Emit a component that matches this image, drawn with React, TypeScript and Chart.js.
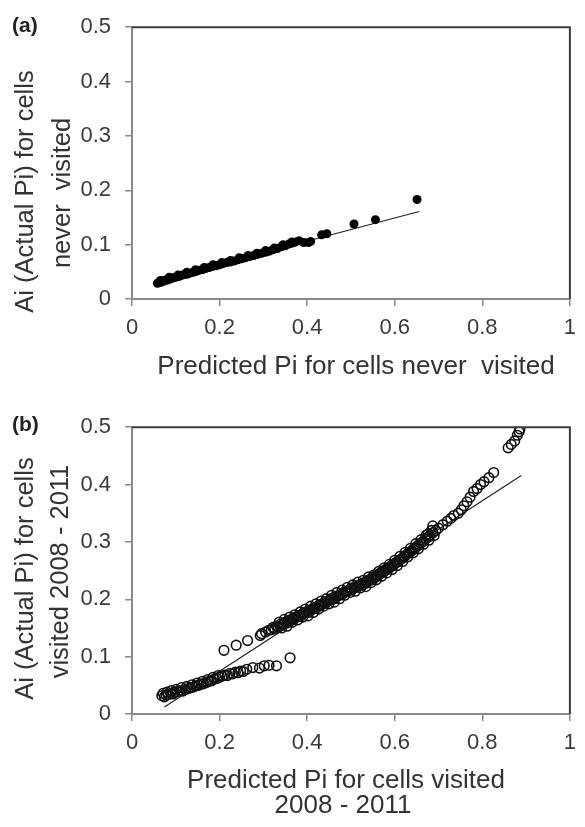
import React, { useEffect, useRef } from 'react';
import { Chart, registerables } from 'chart.js';
Chart.register(...registerables);

const xTicks = [0, 0.2, 0.4, 0.6, 0.8, 1];
const yTicks = [0, 0.1, 0.2, 0.3, 0.4, 0.5];

// Panel (a): cells never visited
const neverPredicted = [
  0.058, 0.061, 0.064, 0.067, 0.070, 0.073, 0.077, 0.081, 0.085, 0.089,
  0.094, 0.099, 0.104, 0.109, 0.115, 0.121, 0.127, 0.133, 0.140, 0.147,
  0.154, 0.161, 0.168, 0.176, 0.184, 0.192, 0.200, 0.208, 0.216, 0.224,
  0.233, 0.242, 0.251, 0.260, 0.269, 0.278, 0.287, 0.296, 0.305, 0.314,
  0.323, 0.332, 0.341, 0.350, 0.358, 0.366, 0.374, 0.382, 0.392, 0.403,
  0.408, 0.433, 0.445, 0.507, 0.556, 0.651,
  0.065, 0.085, 0.105, 0.125, 0.145, 0.165, 0.185, 0.205, 0.225, 0.245,
  0.265, 0.285, 0.305, 0.325, 0.345, 0.365,
];
const neverActual = [
  0.029, 0.030, 0.031, 0.031, 0.033, 0.033, 0.035, 0.035, 0.037, 0.037,
  0.039, 0.040, 0.041, 0.042, 0.044, 0.045, 0.046, 0.048, 0.049, 0.051,
  0.053, 0.054, 0.056, 0.058, 0.060, 0.061, 0.063, 0.065, 0.067, 0.068,
  0.070, 0.072, 0.074, 0.076, 0.078, 0.080, 0.082, 0.084, 0.086, 0.088,
  0.091, 0.093, 0.096, 0.098, 0.101, 0.103, 0.105, 0.107, 0.104, 0.104,
  0.106, 0.118, 0.120, 0.138, 0.146, 0.183,
  0.034, 0.040, 0.044, 0.049, 0.054, 0.058, 0.063, 0.067, 0.071, 0.076,
  0.080, 0.084, 0.089, 0.094, 0.100, 0.105,
];
const neverTrendX = [0.06, 0.656];
const neverTrendY = [0.034, 0.161];

// Panel (b): cells visited 2008 - 2011
const visitedPredicted = [
  // lower band
  0.068, 0.074, 0.078, 0.083, 0.088, 0.093, 0.098, 0.104, 0.110, 0.116,
  0.122, 0.128, 0.134, 0.140, 0.146, 0.152, 0.158, 0.164, 0.170, 0.176,
  0.182, 0.188, 0.194, 0.200, 0.206, 0.212, 0.218, 0.224, 0.230, 0.236,
  0.242, 0.248, 0.254, 0.262, 0.276, 0.291, 0.302, 0.313, 0.330, 0.361,
  0.071, 0.080, 0.090, 0.101, 0.113, 0.125, 0.137, 0.149, 0.161, 0.173,
  0.185, 0.197,
  // upper branch
  0.210, 0.238, 0.264, 0.293, 0.296, 0.305, 0.312,
  // main band, centre row
  0.318, 0.322, 0.326, 0.330, 0.334, 0.338, 0.342, 0.346, 0.350, 0.354,
  0.358, 0.362, 0.366, 0.370, 0.374, 0.378, 0.382, 0.386, 0.390, 0.394,
  0.398, 0.402, 0.406, 0.410, 0.414, 0.418, 0.422, 0.426, 0.430, 0.434,
  0.438, 0.442, 0.446, 0.450, 0.454, 0.458, 0.462, 0.466, 0.470, 0.474,
  0.478, 0.482, 0.486, 0.490, 0.494, 0.498, 0.502, 0.506, 0.510, 0.514,
  0.518, 0.522, 0.526, 0.530, 0.534, 0.538, 0.542, 0.546, 0.550, 0.554,
  0.558, 0.562, 0.566, 0.570, 0.574, 0.578, 0.582, 0.586, 0.590, 0.594,
  0.598, 0.602, 0.606, 0.610, 0.614, 0.618, 0.622, 0.626, 0.630, 0.634,
  0.638, 0.642, 0.646, 0.650, 0.655, 0.660, 0.665, 0.670, 0.676, 0.680,
  0.687, 0.694, 0.700, 0.710, 0.720, 0.728, 0.735, 0.745, 0.752, 0.758,
  0.765, 0.772, 0.780, 0.788, 0.796, 0.804, 0.815, 0.826, 0.859, 0.866,
  0.874, 0.880, 0.884, 0.886,
  // main band, upper row
  0.336, 0.348, 0.360, 0.372, 0.384, 0.396, 0.408, 0.420, 0.432, 0.444,
  0.456, 0.468, 0.480, 0.492, 0.504, 0.516, 0.528, 0.540, 0.552, 0.564,
  0.576, 0.588, 0.600, 0.612, 0.624, 0.636, 0.648, 0.660, 0.672, 0.684,
  // main band, lower row
  0.342, 0.354, 0.366, 0.378, 0.390, 0.402, 0.414, 0.426, 0.438, 0.450,
  0.462, 0.474, 0.486, 0.498, 0.510, 0.522, 0.534, 0.546, 0.558, 0.570,
  0.582, 0.594, 0.606, 0.618, 0.630, 0.642, 0.654, 0.666, 0.678, 0.690,
  // scattered above band
  0.676, 0.687,
];
const visitedActual = [
  0.032, 0.030, 0.033, 0.034, 0.036, 0.035, 0.038, 0.039, 0.041, 0.040,
  0.043, 0.044, 0.046, 0.047, 0.049, 0.050, 0.052, 0.053, 0.055, 0.057,
  0.058, 0.061, 0.062, 0.064, 0.066, 0.068, 0.067, 0.071, 0.070, 0.073,
  0.072, 0.075, 0.074, 0.078, 0.081, 0.080, 0.084, 0.085, 0.084, 0.098,
  0.036, 0.038, 0.041, 0.043, 0.046, 0.048, 0.051, 0.054, 0.057, 0.060,
  0.064, 0.067,
  0.111, 0.120, 0.128, 0.137, 0.140, 0.143, 0.146,
  0.147, 0.151, 0.149, 0.153, 0.152, 0.156, 0.155, 0.158, 0.160, 0.159,
  0.163, 0.162, 0.166, 0.165, 0.169, 0.170, 0.172, 0.171, 0.175, 0.176,
  0.178, 0.177, 0.181, 0.182, 0.183, 0.186, 0.185, 0.189, 0.190, 0.191,
  0.194, 0.193, 0.197, 0.198, 0.199, 0.202, 0.201, 0.205, 0.206, 0.207,
  0.209, 0.210, 0.213, 0.214, 0.215, 0.218, 0.217, 0.221, 0.220, 0.223,
  0.224, 0.226, 0.225, 0.229, 0.228, 0.232, 0.233, 0.235, 0.234, 0.238,
  0.240, 0.242, 0.244, 0.246, 0.248, 0.250, 0.252, 0.254, 0.256, 0.258,
  0.261, 0.263, 0.265, 0.268, 0.270, 0.272, 0.275, 0.277, 0.280, 0.282,
  0.284, 0.287, 0.289, 0.292, 0.295, 0.298, 0.301, 0.305, 0.308, 0.311,
  0.316, 0.320, 0.324, 0.330, 0.336, 0.341, 0.346, 0.350, 0.356, 0.363,
  0.370, 0.378, 0.388, 0.393, 0.400, 0.405, 0.412, 0.421, 0.464, 0.470,
  0.476, 0.486, 0.492, 0.497,
  0.160, 0.165, 0.169, 0.173, 0.178, 0.183, 0.188, 0.192, 0.197, 0.201,
  0.207, 0.212, 0.216, 0.221, 0.225, 0.230, 0.233, 0.239, 0.242, 0.249,
  0.255, 0.261, 0.268, 0.275, 0.282, 0.289, 0.297, 0.304, 0.312, 0.320,
  0.150, 0.153, 0.160, 0.164, 0.169, 0.171, 0.177, 0.183, 0.188, 0.192,
  0.195, 0.201, 0.207, 0.212, 0.214, 0.220, 0.222, 0.229, 0.234, 0.240,
  0.246, 0.252, 0.259, 0.266, 0.274, 0.281, 0.288, 0.296, 0.303, 0.311,
  0.314, 0.328,
];
const visitedTrendX = [0.074, 0.889];
const visitedTrendY = [0.012, 0.416];

const FONT = '"Liberation Sans", Arial, sans-serif';

type TextItem = { text: string; x: number; y: number; size: number; rot?: boolean; bold?: boolean };

function panelPlugin(items: TextItem[]) {
  return {
    id: 'panelDecor',
    afterDraw(chart: any) {
      const ctx: CanvasRenderingContext2D = chart.ctx;
      const a = chart.chartArea;
      ctx.save();
      ctx.strokeStyle = '#3c3c3c';
      ctx.lineWidth = 2;
      ctx.beginPath();
      ctx.moveTo(a.left, a.top);
      ctx.lineTo(a.right, a.top);
      ctx.lineTo(a.right, a.bottom);
      ctx.stroke();
      for (const it of items) {
        ctx.font = `${it.bold ? 'bold ' : ''}${it.size}px ${FONT}`;
        ctx.fillStyle = it.bold ? '#222' : '#333';
        ctx.textBaseline = 'alphabetic';
        if (it.rot) {
          ctx.save();
          ctx.translate(it.x, it.y);
          ctx.rotate(-Math.PI / 2);
          ctx.textAlign = 'center';
          ctx.fillText(it.text, 0, 0);
          ctx.restore();
        } else {
          ctx.textAlign = it.bold ? 'left' : 'center';
          ctx.fillText(it.text, it.x, it.y);
        }
      }
      ctx.restore();
    },
  };
}

function makeConfig(opts: {
  px: number[]; py: number[]; tx: number[]; ty: number[]; filled: boolean;
  padRight: number; padTop: number; xHeight: number; items: TextItem[];
}): any {
  const pts = opts.px.map((x, i) => ({ x, y: opts.py[i] }));
  const trend = opts.tx.map((x, i) => ({ x, y: opts.ty[i] }));
  const axisGrid = { display: true, drawOnChartArea: false, drawTicks: true, tickLength: 7, color: '#8a8a8a', lineWidth: 1.5 };
  const axisBorder = { display: true, color: '#8a8a8a', width: 2 };
  const tickFont = { family: FONT, size: 22 };
  return {
    type: 'scatter',
    data: {
      datasets: [
        {
          data: pts,
          pointRadius: opts.filled ? 4.5 : 4.8,
          pointBackgroundColor: opts.filled ? '#000' : 'rgba(0,0,0,0)',
          pointBorderColor: '#111',
          pointBorderWidth: opts.filled ? 0 : 1.6,
          showLine: false,
        },
        {
          data: trend,
          showLine: true,
          pointRadius: 0,
          borderColor: '#222',
          borderWidth: 1.2,
          fill: false,
        },
      ],
    },
    options: {
      responsive: false,
      maintainAspectRatio: false,
      devicePixelRatio: 1,
      animation: false,
      events: [],
      layout: { padding: { left: 0, right: opts.padRight, top: opts.padTop, bottom: 0 } },
      plugins: { legend: { display: false }, tooltip: { enabled: false } },
      scales: {
        x: {
          type: 'linear',
          min: 0,
          max: 1,
          afterBuildTicks: (s: any) => { s.ticks = xTicks.map((v) => ({ value: v })); },
          afterFit: (s: any) => { s.height = opts.xHeight; },
          ticks: { font: tickFont, color: '#3a3a3a', padding: 9, maxRotation: 0, callback: (v: any) => String(v) },
          grid: axisGrid,
          border: axisBorder,
        },
        y: {
          type: 'linear',
          min: 0,
          max: 0.5,
          afterBuildTicks: (s: any) => { s.ticks = yTicks.map((v) => ({ value: v })); },
          afterFit: (s: any) => { s.width = 132; },
          ticks: { font: tickFont, color: '#3a3a3a', padding: 14, callback: (v: any) => String(v) },
          grid: axisGrid,
          border: axisBorder,
        },
      },
    },
    plugins: [panelPlugin(opts.items)],
  };
}

function Panel(props: { top: number; height: number; config: any }) {
  const ref = useRef<HTMLCanvasElement>(null);
  useEffect(() => {
    const chart = new Chart(ref.current as HTMLCanvasElement, props.config);
    return () => chart.destroy();
  }, []);
  return (
    <canvas
      ref={ref}
      width={585}
      height={props.height}
      style={{ position: 'absolute', left: 0, top: props.top, width: 585, height: props.height, display: 'block' }}
    />
  );
}

export default function App() {
  const configA = makeConfig({
    px: neverPredicted, py: neverActual, tx: neverTrendX, ty: neverTrendY, filled: true,
    padRight: 12, padTop: 27, xHeight: 101,
    items: [
      { text: '(a)', x: 12, y: 32, size: 21, bold: true },
      { text: 'Predicted Pi for cells never  visited', x: 356, y: 374, size: 26 },
      { text: 'Ai (Actual Pi) for cells', x: 33, y: 191.5, size: 25.5, rot: true },
      { text: 'never  visited', x: 70, y: 193, size: 25.5, rot: true },
    ],
  });
  const configB = makeConfig({
    px: visitedPredicted, py: visitedActual, tx: visitedTrendX, ty: visitedTrendY, filled: false,
    padRight: 7, padTop: 26, xHeight: 113,
    items: [
      { text: '(b)', x: 12, y: 30.6, size: 21, bold: true },
      { text: 'Predicted Pi for cells visited', x: 346, y: 387.7, size: 26 },
      { text: '2008 - 2011', x: 343, y: 413, size: 26 },
      { text: 'Ai (Actual Pi) for cells', x: 33, y: 178.5, size: 25.5, rot: true },
      { text: 'visited 2008 - 2011', x: 68.3, y: 171.5, size: 25.5, rot: true },
    ],
  });
  return (
    <div style={{ position: 'absolute', left: 0, top: 0, width: 585, height: 827, background: '#fff', overflow: 'hidden' }}>
      <Panel top={0} height={400} config={configA} />
      <Panel top={400} height={427} config={configB} />
    </div>
  );
}
